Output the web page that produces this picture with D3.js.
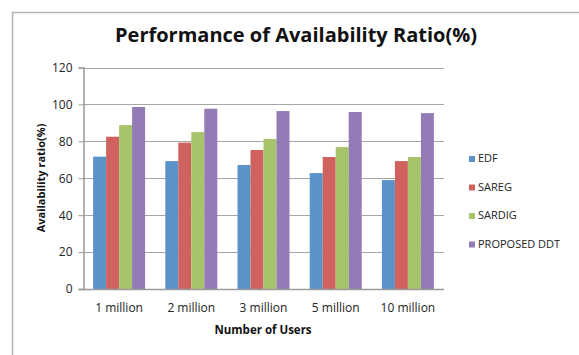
<!DOCTYPE html>
<html>
<head>
<meta charset="utf-8">
<script src="https://cdn.jsdelivr.net/npm/d3@7"></script>
<style>
  html, body { margin: 0; padding: 0; background: #fff; }
  svg { display: block; }
  text { font-family: "Open Sans", "DejaVu Sans", sans-serif; }
</style>
</head>
<body>
<svg id="chart" width="579" height="355"></svg>
<script>
// Availability ratio (%) per scheme, for each user population
const categories = ["1 million", "2 million", "3 million", "5 million", "10 million"];
const seriesNames = ["EDF", "SAREG", "SARDIG", "PROPOSED DDT"];
const edf         = [71.7, 69.3, 67.2, 62.8, 59.0];
const sareg       = [82.5, 79.3, 75.3, 71.5, 69.3];
const sardig      = [88.8, 85.0, 81.3, 76.9, 71.5];
const proposedDdt = [98.6, 97.7, 96.4, 95.9, 95.3];
const yTicks = [0, 20, 40, 60, 80, 100, 120];
const colors = ["#5b93c9", "#cf625e", "#a8c46b", "#937bb5"];

const seriesValues = [edf, sareg, sardig, proposedDdt];

const svg = d3.select("#chart");
const plot = { left: 83, right: 444, top: 67.5, bottom: 289 };

// Outer chart frame
svg.append("path")
  .attr("d", "M12.5,355 V12.5 H579")
  .attr("fill", "none")
  .attr("stroke", "#b4b4b4")
  .attr("stroke-width", 1.5);

// Title
svg.append("text")
  .attr("x", 296).attr("y", 42)
  .attr("text-anchor", "middle")
  .attr("font-size", 20).attr("font-weight", "bold")
  .attr("fill", "#111")
  .text("Performance of Availability Ratio(%)");

const x = d3.scaleBand()
  .domain(categories)
  .range([plot.left, plot.right])
  .paddingInner(0.28)
  .paddingOuter(0.14);

const xs = d3.scaleBand()
  .domain(seriesNames)
  .range([0, x.bandwidth()]);

const y = d3.scaleLinear()
  .domain([0, 120])
  .range([plot.bottom, plot.top]);

// Horizontal gridlines
svg.append("g")
  .selectAll("line")
  .data(yTicks.filter(d => d > 0))
  .join("line")
  .attr("x1", plot.left).attr("x2", plot.right)
  .attr("y1", d => Math.round(y(d)) + 0.5).attr("y2", d => Math.round(y(d)) + 0.5)
  .attr("stroke", "#a6a6a6").attr("stroke-width", 1);

// Y axis
const yAxis = svg.append("g")
  .attr("transform", `translate(${plot.left + 0.5},0)`)
  .call(d3.axisLeft(y).tickValues(yTicks).tickSize(5).tickPadding(6));
yAxis.select(".domain").attr("stroke", "#9a9a9a").attr("stroke-width", 1.5);
yAxis.selectAll(".tick line").attr("stroke", "#9a9a9a");
yAxis.selectAll(".tick text")
  .attr("font-size", 12).attr("fill", "#222")
  .attr("font-family", "\"Open Sans\", sans-serif");

// Bars
const groups = svg.append("g")
  .selectAll("g")
  .data(categories.map((c, i) => ({ c, i })))
  .join("g")
  .attr("transform", d => `translate(${x(d.c)},0)`);

groups.selectAll("rect")
  .data(d => seriesNames.map((s, k) => ({ s, k, v: seriesValues[k][d.i] })))
  .join("rect")
  .attr("x", d => xs(d.s))
  .attr("y", d => y(d.v))
  .attr("width", xs.bandwidth())
  .attr("height", d => y(0) - y(d.v))
  .attr("fill", d => colors[d.k]);

// X axis baseline
svg.append("line")
  .attr("x1", plot.left - 4).attr("x2", plot.right)
  .attr("y1", plot.bottom + 0.5).attr("y2", plot.bottom + 0.5)
  .attr("stroke", "#9a9a9a").attr("stroke-width", 1.5);

// Category labels
svg.append("g")
  .selectAll("text")
  .data(categories)
  .join("text")
  .attr("x", d => x(d) + x.bandwidth() / 2)
  .attr("y", 312)
  .attr("text-anchor", "middle")
  .attr("font-size", 12).attr("fill", "#222")
  .text(d => d);

// Axis titles
svg.append("text")
  .attr("x", 263).attr("y", 334)
  .attr("text-anchor", "middle")
  .attr("font-size", 11.5).attr("font-weight", "bold").attr("fill", "#111")
  .text("Number of Users");

svg.append("text")
  .attr("transform", "translate(45,178) rotate(-90)")
  .attr("text-anchor", "middle")
  .attr("font-size", 11).attr("font-weight", "bold").attr("fill", "#111")
  .text("Availability ratio(%)");

// Legend
const legend = svg.append("g")
  .selectAll("g")
  .data(seriesNames)
  .join("g")
  .attr("transform", (d, i) => `translate(469,${162 + i * 28.5})`);
legend.append("rect")
  .attr("x", 0).attr("y", -6)
  .attr("width", 6).attr("height", 6)
  .attr("fill", (d, i) => colors[i]);
legend.append("text")
  .attr("x", 9).attr("y", 0)
  .attr("font-size", 11).attr("fill", "#222")
  .text(d => d);
</script>
</body>
</html>
